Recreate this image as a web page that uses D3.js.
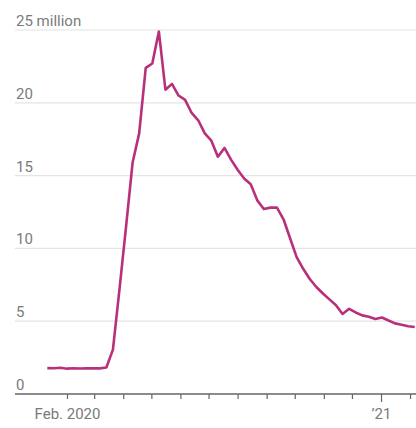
<!DOCTYPE html>
<html>
<head>
<meta charset="utf-8">
<script src="https://cdn.jsdelivr.net/npm/d3@7"></script>
<style>
  body { margin: 0; background: #fff; }
  svg { display: block; }
  .tick text, .ylab { font-family: "Liberation Sans Narrow", "Roboto", sans-serif; fill: #7a7a7a; }
</style>
</head>
<body>
<div id="chart"></div>
<script>
// weekly continuing claims, millions (week ending Saturday)
const startWeek = "2020-01-11";
const claims = [
  1.78, 1.77, 1.80, 1.74, 1.77, 1.75, 1.76, 1.76, 1.76, 1.82,
  3.05, 7.2, 11.5, 15.9, 17.9, 22.4, 22.7, 24.9, 20.9, 21.3,
  20.5, 20.2, 19.3, 18.8, 17.9, 17.4, 16.3, 16.9, 16.1, 15.4,
  14.8, 14.4, 13.3, 12.7, 12.8, 12.8, 12.0, 10.7, 9.4, 8.6,
  7.9, 7.35, 6.9, 6.5, 6.1, 5.5, 5.85, 5.6, 5.4, 5.3,
  5.15, 5.25, 5.05, 4.85, 4.75, 4.65, 4.6
];
const yTicks = [0, 5, 10, 15, 20, 25];
const yTickLabels = ["0", "5", "10", "15", "20", "25 million"];
const xLabels = {"2020-02": "Feb. 2020", "2021-01": "\u201921"};

const W = 416, H = 428;
const parse = d3.timeParse("%Y-%m-%d");
const first = parse(startWeek);
const data = claims.map((v, i) => ({date: d3.timeWeek.offset(first, i), value: v}));

const svg = d3.select("#chart").append("svg")
    .attr("width", W)
    .attr("height", H);

const x = d3.scaleTime()
    .domain([new Date(2020, 1, 1), new Date(2021, 0, 1)])
    .range([67, 381]);
const y = d3.scaleLinear()
    .domain([0, 25])
    .range([394, 30]);

const left = 15;

// gridlines + y labels
const grid = svg.append("g");
grid.selectAll("line")
    .data(yTicks.filter(d => d > 0))
    .join("line")
    .attr("x1", left).attr("x2", W)
    .attr("y1", d => y(d)).attr("y2", d => y(d))
    .attr("stroke", "#e4e4e4")
    .attr("stroke-width", 1.2);
grid.selectAll("text")
    .data(yTicks)
    .join("text")
    .attr("class", "ylab")
    .attr("x", left + 1)
    .attr("y", d => y(d) - 4)
    .attr("font-size", 15)
    .text((d, i) => yTickLabels[i]);

// x axis
const months = d3.timeMonth.range(new Date(2020, 1, 1), new Date(2021, 2, 1));
const fmt = d3.timeFormat("%Y-%m");
const xAxis = svg.append("g")
    .attr("transform", `translate(0,${y(0)})`)
    .call(d3.axisBottom(x)
        .tickValues(months)
        .tickSize(5)
        .tickPadding(8)
        .tickFormat(d => xLabels[fmt(d)] || ""));
xAxis.select(".domain").remove();
xAxis.selectAll(".tick line")
    .attr("stroke", "#666")
    .attr("stroke-width", 1.2)
    .attr("y2", d => d.getMonth() === 0 ? 8 : 5);
xAxis.selectAll(".tick text")
    .attr("font-size", 15)
    .attr("dy", "0.8em");
xAxis.append("line")
    .attr("x1", left).attr("x2", W)
    .attr("stroke", "#666")
    .attr("stroke-width", 1.6);

// line
const line = d3.line()
    .x(d => x(d.date))
    .y(d => y(d.value));
svg.append("path")
    .datum(data)
    .attr("d", line)
    .attr("fill", "none")
    .attr("stroke", "#b8307c")
    .attr("stroke-width", 2.6)
    .attr("stroke-linejoin", "round");
</script>
</body>
</html>
